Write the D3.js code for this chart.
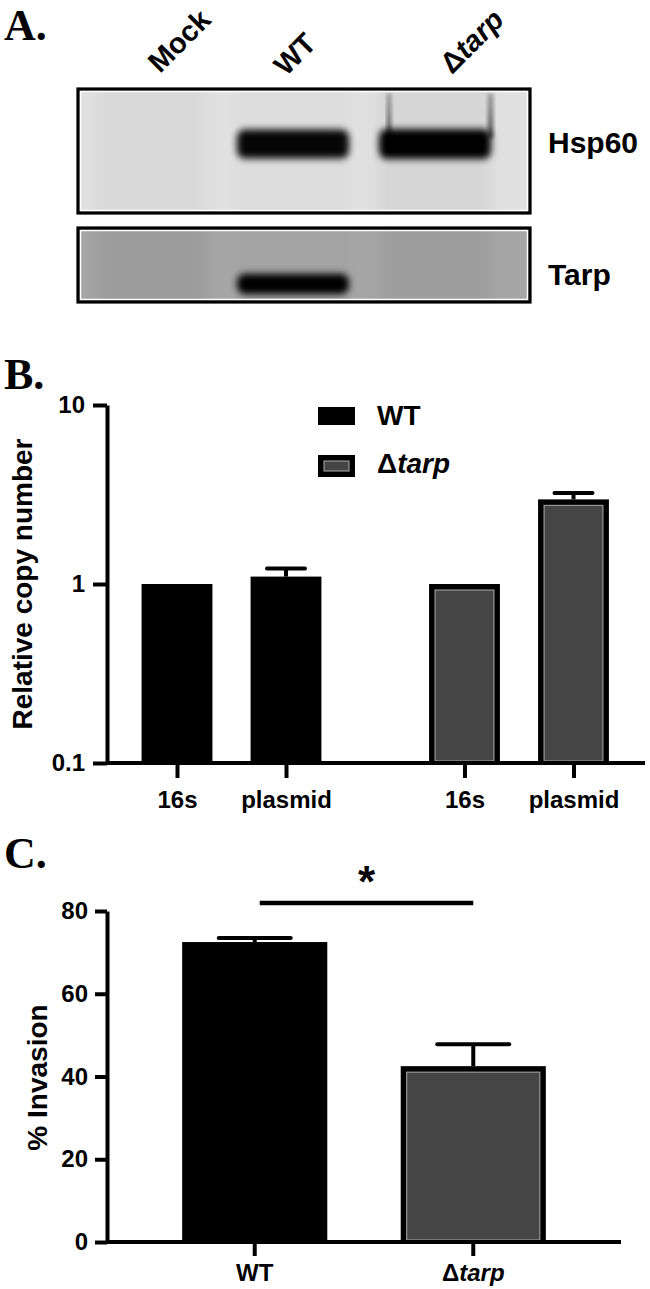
<!DOCTYPE html>
<html><head><meta charset="utf-8">
<script src="https://cdn.jsdelivr.net/npm/d3@7"></script>
<style>
html,body{margin:0;padding:0;background:#fff;}
text{font-family:"Liberation Sans",Arial,sans-serif;font-weight:bold;}
.panel{font-family:"Liberation Serif","Times New Roman",serif;font-weight:bold;}
</style></head>
<body>
<svg id="fig" width="650" height="1289"></svg>
<script>
// ---------- data ----------
const lanes = ["Mock", "WT", "Δtarp"];
const hsp60Signal = [0, 0.92, 1.0];
const tarpSignal = [0, 0.95, 0];
const blotLabels = ["Hsp60", "Tarp"];

const bGroups = ["WT", "Δtarp"];
const bCategories = ["16s", "plasmid"];
const bWTValues = [1.0, 1.10];
const bWTErrors = [0, 0.12];
const bTarpValues = [1.0, 2.97];
const bTarpErrors = [0, 0.25];
const bTicks = [0.1, 1, 10];
const bYLabel = "Relative copy number";

const cCategories = ["WT", "Δtarp"];
const cValues = [72.5, 42.5];
const cErrors = [1.0, 5.3];
const cTicks = [0, 20, 40, 60, 80];
const cYLabel = "% Invasion";

const svg = d3.select("#fig");
const defs = svg.append("defs");
defs.append("filter").attr("id","blurBand").attr("x","-30%").attr("y","-80%").attr("width","160%").attr("height","260%")
  .append("feGaussianBlur").attr("stdDeviation", 3.6);
defs.append("filter").attr("id","blurSoft").attr("x","-50%").attr("y","-10%").attr("width","200%").attr("height","120%")
  .append("feGaussianBlur").attr("stdDeviation", 2.2);
defs.append("filter").attr("id","blurLane").attr("x","-20%").attr("y","-20%").attr("width","140%").attr("height","140%")
  .append("feGaussianBlur").attr("stdDeviation", 6);
const smear = defs.append("linearGradient").attr("id","smear").attr("x1",0).attr("y1",0).attr("x2",0).attr("y2",1);
smear.append("stop").attr("offset","0%").attr("stop-color","#000").attr("stop-opacity",0.3);
smear.append("stop").attr("offset","100%").attr("stop-color","#000").attr("stop-opacity",0.7);

function deltaTarp(sel){
  sel.text(null);
  sel.append("tspan").text("Δ");
  sel.append("tspan").attr("font-style","italic").text("tarp");
}
function labelText(sel, d){
  if (d === "Δtarp") deltaTarp(sel); else sel.text(d);
}

// ---------- panel letters ----------
svg.append("text").attr("class","panel").attr("x",4).attr("y",40).attr("font-size",44).text("A.");
svg.append("text").attr("class","panel").attr("x",4).attr("y",389).attr("font-size",44).text("B.");
svg.append("text").attr("class","panel").attr("x",4).attr("y",868).attr("font-size",44).text("C.");

// ---------- Panel A: western blot ----------
const blotX0 = 78, blotX1 = 530;
const laneScale = d3.scaleBand().domain(lanes).range([80, 506]).paddingInner(0.155).paddingOuter(0.0775);

function drawBlot(id, y0, y1, bg, laneTint, signal, bandCy, bandH, label, labelY, extra){
  defs.append("clipPath").attr("id",id).append("rect")
    .attr("x",blotX0).attr("y",y0).attr("width",blotX1-blotX0).attr("height",y1-y0);
  const g = svg.append("g").attr("clip-path",`url(#${id})`);
  g.append("rect").attr("x",blotX0).attr("y",y0).attr("width",blotX1-blotX0).attr("height",y1-y0)
    .attr("fill",bg);
  g.selectAll("rect.lane").data(lanes).join("rect").attr("class","lane")
    .attr("x",d=>laneScale(d)+4).attr("y",y0-20).attr("width",laneScale.bandwidth()-8).attr("height",y1-y0+40)
    .attr("fill",(d,i)=>laneTint[i]).attr("filter","url(#blurLane)");
  if (extra) extra(g);
  g.selectAll("rect.band").data(lanes.map((d,i)=>({lane:d,s:signal[i]})).filter(d=>d.s>0)).join("rect")
    .attr("class","band")
    .attr("x",d=>laneScale(d.lane)+4).attr("width",laneScale.bandwidth()-8)
    .attr("y",d=>bandCy - bandH*(0.5+0.2*(d.s-0.9))).attr("height",d=>bandH*(1+0.4*(d.s-0.9)))
    .attr("rx",8).attr("fill","#000").attr("opacity",d=>Math.min(1,d.s+0.05))
    .attr("filter","url(#blurBand)");
  const f = svg.append("g");
  f.append("rect").attr("x",blotX0+2.5).attr("y",y0+2.5).attr("width",blotX1-blotX0-5).attr("height",y1-y0-5)
    .attr("fill","none").attr("stroke","#fff").attr("stroke-width",1.5);
  f.append("rect").attr("x",blotX0).attr("y",y0).attr("width",blotX1-blotX0).attr("height",y1-y0)
    .attr("fill","none").attr("stroke","#000").attr("stroke-width",3.2);
  svg.append("text").attr("x",548).attr("y",labelY).attr("font-size",30).text(label);
}

drawBlot("clipA1", 89, 213, "#e0e0e0", ["#dadada","#dcdcdc","#d6d6d6"], hsp60Signal, 144, 29, blotLabels[0], 153, g => {
  const lx = laneScale("Δtarp");
  [lx+14, lx+laneScale.bandwidth()-5].forEach((x,i) => {
    g.append("rect").attr("x",x-2).attr("y",93).attr("width",i?5:4).attr("height",45)
      .attr("fill","url(#smear)").attr("filter","url(#blurSoft)");
  });
});
drawBlot("clipA2", 228, 302, "#a6a6a6", ["#9c9c9c","#a3a3a3","#9e9e9e"], tarpSignal, 284, 20, blotLabels[1], 285, null);

// lane labels (rotated 45°)
const laneLabelShift = {"Mock": 9, "WT": -7, "Δtarp": 17};
const laneLabelBase = {"Mock": 74, "WT": 77, "Δtarp": 75};
svg.selectAll("text.laneLabel").data(lanes).join("text").attr("class","laneLabel")
  .attr("font-size",29)
  .attr("transform",(d)=>`translate(${laneScale(d)+laneScale.bandwidth()/2 + laneLabelShift[d]},${laneLabelBase[d]}) rotate(-45)`)
  .each(function(d){ labelText(d3.select(this), d); });

// ---------- Panel B ----------
const bL = 107, bR = 645, bT = 405, bB = 763;
const yB = d3.scaleLog().domain([0.1, 10]).range([bB, bT]);
const xGroup = d3.scalePoint().domain(bGroups).range([231.5, 519]);
const xInner = d3.scaleBand().domain(bCategories).range([-109, 109]).paddingInner(0.35).paddingOuter(0.175);
const bData = [];
bGroups.forEach((g, gi) => {
  const vals = gi === 0 ? bWTValues : bTarpValues;
  const errs = gi === 0 ? bWTErrors : bTarpErrors;
  bCategories.forEach((c, ci) => bData.push({group:g, cat:c, key:g+"|"+c, v:vals[ci], e:errs[ci]}));
});
const xB = d3.scaleOrdinal().domain(bData.map(d=>d.key)).range(bData.map(d=>xGroup(d.group)+xInner(d.cat)+xInner.bandwidth()/2));
const bw = xInner.bandwidth();

const gB = svg.append("g");
function drawBar(g, x, w, yTop, yBase, isWT){
  if (isWT){
    g.append("rect").attr("x",x).attr("y",yTop).attr("width",w).attr("height",yBase-yTop).attr("fill","#000");
  } else {
    g.append("rect").attr("x",x).attr("y",yTop).attr("width",w).attr("height",yBase-yTop).attr("fill","#000");
    g.append("rect").attr("x",x+6).attr("y",yTop+6).attr("width",w-12).attr("height",yBase-yTop-8)
      .attr("fill","#454545").attr("stroke","#a0a0a0").attr("stroke-width",1.1);
  }
}
function drawErr(g, cx, yTop, yErr, capW){
  if (yTop - yErr < 0.5) return;
  g.append("line").attr("x1",cx).attr("x2",cx).attr("y1",yTop).attr("y2",yErr).attr("stroke","#000").attr("stroke-width",4);
  g.append("line").attr("x1",cx-capW/2).attr("x2",cx+capW/2).attr("y1",yErr).attr("y2",yErr)
    .attr("stroke","#000").attr("stroke-width",4).attr("stroke-linecap","round");
}
bData.forEach(d => {
  const cx = xB(d.key);
  drawErr(gB, cx, yB(d.v), yB(d.v + d.e), 38);
  drawBar(gB, cx - bw/2, bw, yB(d.v), bB, d.group === "WT");
});

gB.append("g").attr("transform",`translate(${bL},0)`)
  .call(d3.axisLeft(yB).tickValues(bTicks).tickFormat(d=>String(d)).tickSize(14).tickPadding(8).tickSizeOuter(0));
const axBx = gB.append("g").attr("transform",`translate(0,${bB})`)
  .call(d3.axisBottom(xB).tickSize(15).tickPadding(13).tickFormat(k=>k.split("|")[1]));
axBx.select(".domain").remove();
gB.append("line").attr("x1",bL).attr("x2",bR).attr("y1",bB).attr("y2",bB).attr("stroke","#000").attr("stroke-width",4);

// legend B
const leg = gB.append("g");
bGroups.forEach((g, i) => {
  const y0 = 407 + i*48;
  const h = i ? 22 : 18;
  drawBar(leg, 318, 37, y0, y0+h, i===0);
  if (i) leg.select("rect:last-child").attr("y", y0+6).attr("height", h-12).attr("x",324).attr("width",25);
  const t = leg.append("text").attr("x",377).attr("y",y0 + 18).attr("font-size",28);
  labelText(t, g);
});

svg.append("text").attr("font-size",28).attr("text-anchor","middle")
  .attr("transform",`translate(32,${(bT+bB)/2}) rotate(-90)`).text(bYLabel);

// ---------- Panel C ----------
const cL = 107, cR = 621, cT = 911, cB = 1242;
const yC = d3.scaleLinear().domain([0, 80]).range([cB, cT]);
const xC = d3.scaleBand().domain(cCategories).range([cL, cR]).paddingInner(0.336).paddingOuter(0.344);
const gC = svg.append("g");
cCategories.forEach((c, i) => {
  const cx = xC(c) + xC.bandwidth()/2;
  drawErr(gC, cx, yC(cValues[i]), yC(cValues[i] + cErrors[i]), 72);
  drawBar(gC, xC(c), xC.bandwidth(), yC(cValues[i]), cB, i === 0);
});
gC.append("g").attr("transform",`translate(${cL},0)`)
  .call(d3.axisLeft(yC).tickValues(cTicks).tickSize(12).tickPadding(7).tickSizeOuter(0));
const axCx = gC.append("g").attr("transform",`translate(0,${cB})`)
  .call(d3.axisBottom(xC).tickSize(14).tickPadding(8));
axCx.select(".domain").remove();
axCx.selectAll(".tick text").each(function(d){ labelText(d3.select(this), d); });
gC.append("line").attr("x1",cL).attr("x2",cR).attr("y1",cB).attr("y2",cB).attr("stroke","#000").attr("stroke-width",4);

const sx1 = xC(cCategories[0]) + xC.bandwidth()/2 + 5, sx2 = xC(cCategories[1]) + xC.bandwidth()/2;
gC.append("line").attr("x1",sx1).attr("x2",sx2).attr("y1",903).attr("y2",903).attr("stroke","#000").attr("stroke-width",4.5);
gC.append("text").attr("x",(sx1+sx2)/2).attr("y",897).attr("text-anchor","middle").attr("font-size",44).text("*");

svg.append("text").attr("font-size",28).attr("text-anchor","middle")
  .attr("transform",`translate(47,${(cT+cB)/2 + 1}) rotate(-90)`).text(cYLabel);

svg.selectAll(".domain").attr("stroke","#000").attr("stroke-width",4);
svg.selectAll(".tick line").attr("stroke","#000").attr("stroke-width",4);
svg.selectAll(".tick text").attr("font-size",24).attr("fill","#000")
  .attr("font-family","'Liberation Sans',Arial,sans-serif").attr("font-weight","bold");
</script>
</body></html>
